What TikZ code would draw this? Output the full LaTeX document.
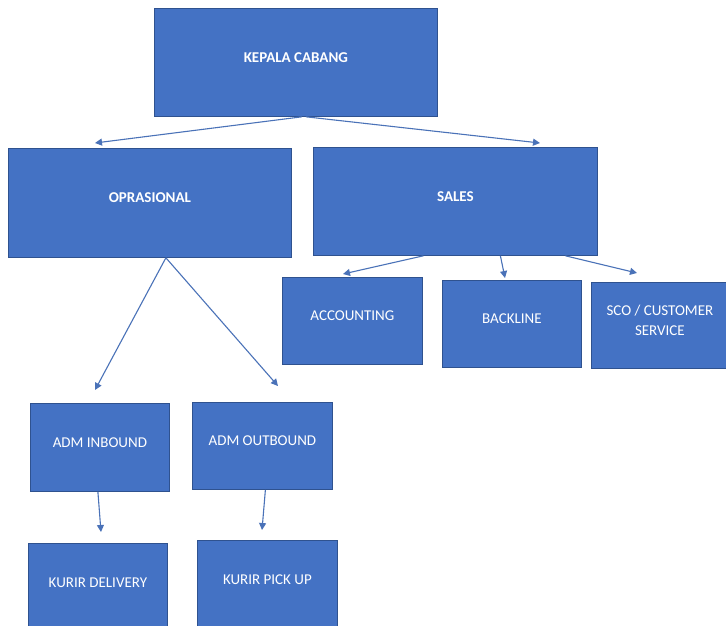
\documentclass[tikz,border=0pt]{standalone}
\usepackage{fontspec}
\setmainfont{Carlito}
\usetikzlibrary{arrows.meta}
\definecolor{kotak}{HTML}{4472C4}
\definecolor{tepi}{HTML}{2F528F}
\definecolor{panah}{HTML}{4A72B8}
\tikzset{
  box/.style={draw=tepi, line width=0.8pt, fill=kotak, text=white, align=center,
    anchor=north west, inner sep=0pt, text depth=10pt,
    font=\fontsize{15}{20}\selectfont},
  link/.style={draw=panah, line width=1.1pt, -{Triangle[length=7pt,width=7pt]}}
}
\begin{document}
\begin{tikzpicture}[x=1pt,y=-1pt]
            \useasboundingbox[fill=white] (0,0) rectangle (726,625);
            % Bagan organisasi cabang
            \foreach \nodename/\nodex/\nodey/\nodew/\nodeh/\nodetext in {
                kepala/154/8/283/108/{\bfseries KEPALA CABANG},
                oprasional/8/148/283/109/{\bfseries OPRASIONAL},
                sales/313/147/284/108/{\bfseries SALES},
                accounting/282/277/140/87/{ACCOUNTING},
                backline/442/280/139/87/{BACKLINE},
                sco/591/282/137/86/{SCO / CUSTOMER\\SERVICE},
                inbound/30/403/139/88/{ADM INBOUND},
                outbound/192/402/140/87/{ADM OUTBOUND},
                delivery/28/543/139/88/{KURIR DELIVERY},
                pickup/197/540/140/88/{KURIR PICK UP}}
                \node[box, minimum width=\nodew, minimum height=\nodeh] (\nodename) at (\nodex,\nodey) {\nodetext};

            \foreach \tipname/\tippos in {keopr/{95,143}, kesales/{540,143}, keinb/{95,390},
                keoutb/{278,386}, keacc/{343,274}, keback/{505,278}, kesco/{637,273},
                kedel/{101,532}, kepick/{262,530}}
                \coordinate (\tipname) at (\tippos);

            \foreach \startnode/\dx/\endnode in {kepala/6/keopr, kepala/10/kesales,
                oprasional/16/keinb, oprasional/16/keoutb,
                sales/-32/keacc, sales/45/keback, sales/110/kesco,
                inbound/-2/kedel, outbound/3/kepick}
                \draw[link] ([xshift=\dx]\startnode.south) -- (\endnode);
        \end{tikzpicture}
\end{document}
